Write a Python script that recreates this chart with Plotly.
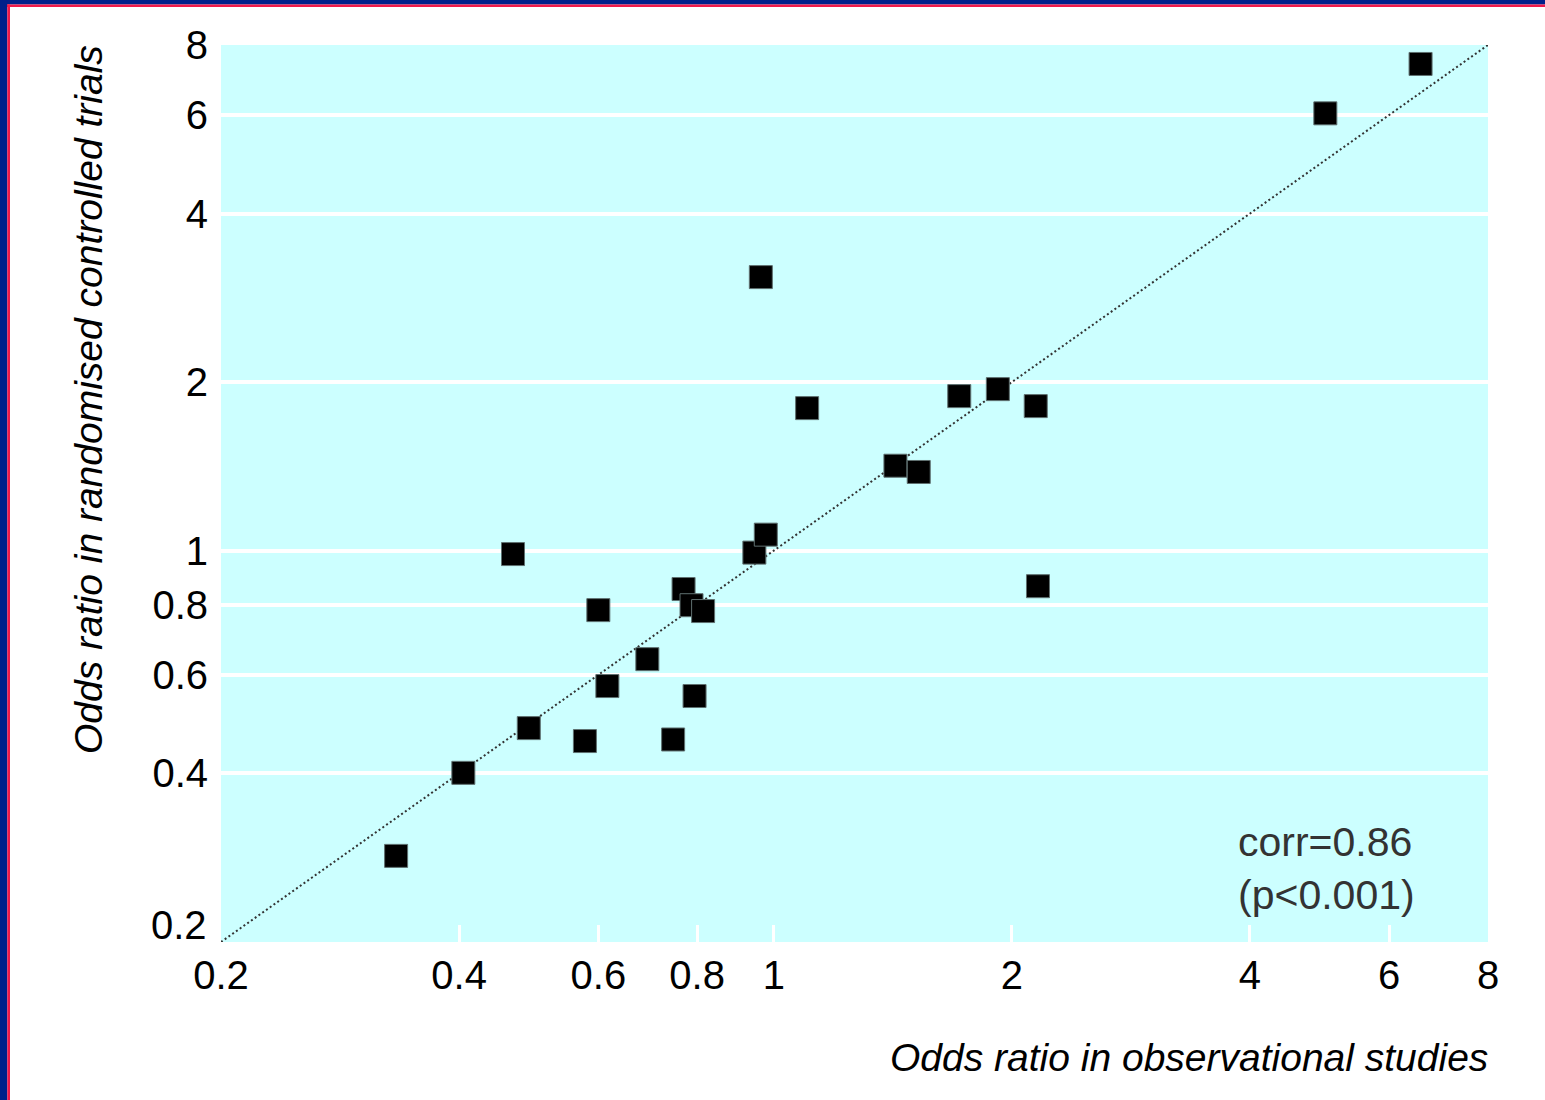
import plotly.graph_objects as go
import math

# Data (odds ratios)
obs_or = [0.333, 0.405, 0.468, 0.490, 0.577, 0.600, 0.616, 0.692, 0.746, 0.769,
          0.787, 0.814, 0.794, 0.945, 0.977, 0.963, 1.102, 1.425, 1.525, 1.716,
          1.920, 2.144, 2.158, 4.982, 6.574]
rct_or = [0.285, 0.401, 0.986, 0.482, 0.457, 0.783, 0.573, 0.640, 0.460, 0.854,
          0.799, 0.780, 0.550, 0.992, 1.068, 3.08, 1.797, 1.418, 1.382, 1.888,
          1.943, 1.812, 0.864, 6.04, 7.40]
tick_vals = [0.2, 0.4, 0.6, 0.8, 1, 2, 4, 6, 8]
tick_text = ["0.2", "0.4", "0.6", "0.8", "1", "2", "4", "6", "8"]
identity_line = [0.2, 8]

W, H = 1545, 1100
L, R, T, B = 221, 57, 45, 158
PW, PH = W - L - R, H - T - B


def px(x):
    return (x - L) / PW


def py(y):
    return (H - B - y) / PH


FONT = "Liberation Sans, Arial, sans-serif"

fig = go.Figure()
fig.add_trace(go.Scatter(
    x=identity_line, y=identity_line, mode="lines",
    line=dict(color="#333333", width=2, dash="2px,2.6px"),
    hoverinfo="skip", showlegend=False))
fig.add_trace(go.Scatter(
    x=obs_or, y=rct_or, mode="markers",
    marker=dict(symbol="square", size=23, color="black",
                line=dict(color="#5f7070", width=1)),
    showlegend=False))

# y tick labels: the bottom one is drawn separately, slightly raised as in the reference
y_tick_text = [""] + tick_text[1:]

rng = [math.log10(0.2), math.log10(8)]
fig.update_xaxes(type="log", range=rng, tickvals=tick_vals, ticktext=tick_text,
                 showgrid=False, zeroline=False, showline=False,
                 ticks="inside", ticklen=17, tickwidth=3, tickcolor="white",
                 tickfont=dict(family=FONT, size=40, color="black"),
                 ticklabelstandoff=6)
fig.update_yaxes(type="log", range=rng, tickvals=tick_vals, ticktext=y_tick_text,
                 showgrid=True, gridcolor="white", gridwidth=4,
                 zeroline=False, showline=False, ticks="",
                 tickfont=dict(family=FONT, size=40, color="black"),
                 ticklabelstandoff=12)

shapes = [
    dict(type="rect", xref="paper", yref="paper", x0=px(0), x1=px(W), y0=py(0), y1=py(4.5),
         fillcolor="#00208a", line=dict(width=0), layer="above"),
    dict(type="rect", xref="paper", yref="paper", x0=px(7), x1=px(W), y0=py(4.5), y1=py(7),
         fillcolor="#f0194a", line=dict(width=0), layer="above"),
    dict(type="rect", xref="paper", yref="paper", x0=px(0), x1=px(7.3), y0=py(0), y1=py(H),
         fillcolor="#00208a", line=dict(width=0), layer="above"),
    dict(type="rect", xref="paper", yref="paper", x0=px(7.3), x1=px(10), y0=py(4.5), y1=py(H),
         fillcolor="#f0194a", line=dict(width=0), layer="above"),
]

annotations = [
    dict(xref="paper", yref="paper", x=px(1490), y=py(1057), xanchor="right", yanchor="middle",
         text="<i>Odds ratio in observational studies</i>", showarrow=False,
         font=dict(family=FONT, size=39, color="black")),
    dict(xref="paper", yref="paper", x=px(88), y=py(400), xanchor="center", yanchor="middle",
         text="<i>Odds ratio in randomised controlled trials</i>", showarrow=False, textangle=-90,
         font=dict(family=FONT, size=39, color="black")),
    dict(xref="paper", yref="paper", x=px(209), y=py(925), xanchor="right", yanchor="middle",
         text=tick_text[0], showarrow=False,
         font=dict(family=FONT, size=40, color="black")),
    dict(xref="paper", yref="paper", x=px(1236), y=py(868), xanchor="left", yanchor="middle",
         align="left", text="corr=0.86<br>(p&lt;0.001)", showarrow=False,
         font=dict(family=FONT, size=41, color="#333333")),
]

fig.update_layout(width=W, height=H, margin=dict(l=L, r=R, t=T, b=B, pad=0),
                  paper_bgcolor="white", plot_bgcolor="#ccffff",
                  shapes=shapes, annotations=annotations, showlegend=False)

fig.write_html("out.html", config={"displayModeBar": False},
               post_script="document.body.style.margin='0';")
